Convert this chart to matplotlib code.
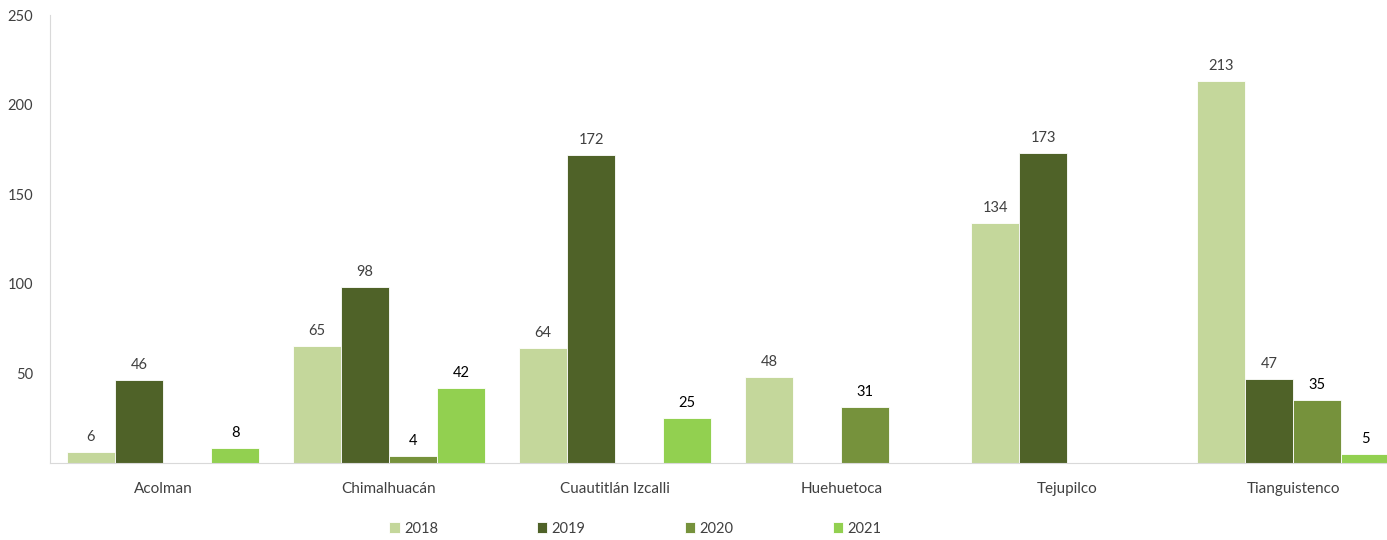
import numpy as np
import matplotlib.pyplot as plt

plt.rcParams['font.family'] = ['Lato', 'DejaVu Sans']

municipios = ['Acolman', 'Chimalhuacán', 'Cuautitlán Izcalli', 'Huehuetoca', 'Tejupilco', 'Tianguistenco']
anios = ['2018', '2019', '2020', '2021']
v2018 = [6, 65, 64, 48, 134, 213]
v2019 = [46, 98, 172, np.nan, 173, 47]
v2020 = [np.nan, 4, np.nan, 31, np.nan, 35]
v2021 = [8, 42, 25, np.nan, np.nan, 5]
series = [v2018, v2019, v2020, v2021]
colores = ['#C4D79B', '#4F6228', '#76923C', '#92D050']
color_etiqueta = ['#404040', '#404040', '#000000', '#000000']

fig = plt.figure(figsize=(13.87, 5.4), dpi=100)
ax = fig.add_axes([0.036, 0.143, 0.978, 0.829])

x = np.arange(len(municipios))
ancho = 0.2125
for i, vals in enumerate(series):
    pos = x + (i - 1.5) * ancho
    ax.bar(pos, vals, ancho, color=colores[i], edgecolor='white', linewidth=0.6, label=anios[i])
    for p, v in zip(pos, vals):
        if not np.isnan(v):
            ax.text(p, v + 4.5, str(int(v)), ha='center', va='bottom', fontsize=10.5, color=color_etiqueta[i])

ax.set_xlim(-0.5, len(municipios) - 0.5)
ax.set_ylim(0, 250)
ax.set_yticks([50, 100, 150, 200, 250])
ax.set_xticks(x)
ax.set_xticklabels(municipios, fontsize=11, color='#404040')
ax.tick_params(axis='y', labelsize=10.5, labelcolor='#404040', length=0, pad=12)
ax.tick_params(axis='x', length=0, pad=14)
for s in ['top', 'right']:
    ax.spines[s].set_visible(False)
ax.spines['left'].set_color('#D9D9D9')
ax.spines['bottom'].set_color('#D9D9D9')

fig.legend(loc='lower center', bbox_to_anchor=(0.458, -0.016), ncol=4, frameon=False,
           fontsize=10.5, handlelength=0.7, handleheight=0.7, handletextpad=0.3,
           columnspacing=6.8, labelcolor='#404040')

fig.savefig('out.png', dpi=100)
